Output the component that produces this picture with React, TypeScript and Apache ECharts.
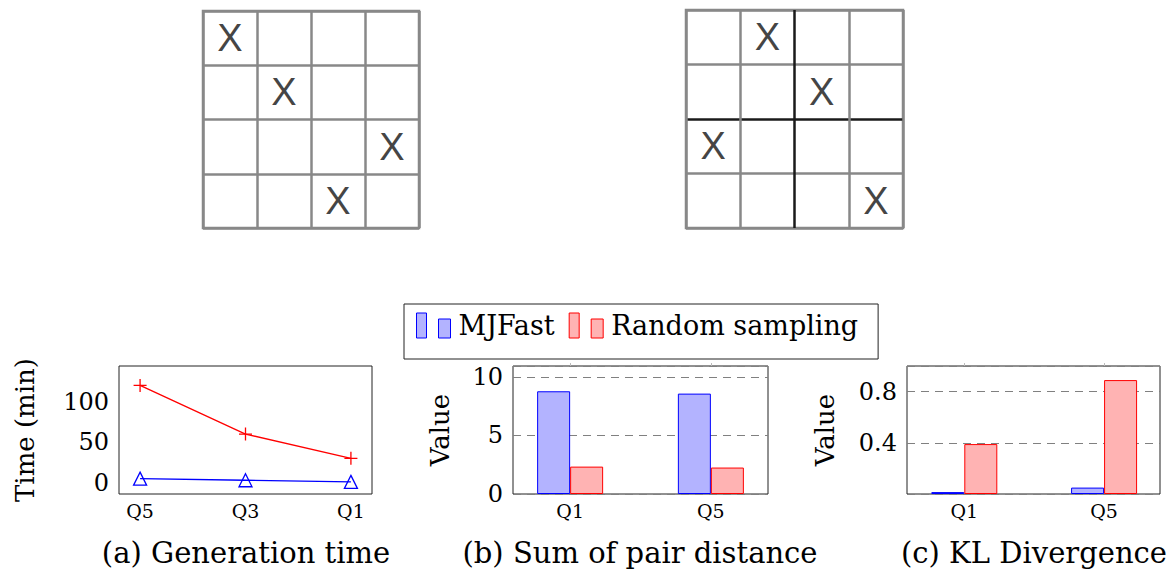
import React, { useEffect, useRef } from "react";
import * as echarts from "echarts";

// ---- data ----
const timeCats = ["Q5", "Q3", "Q1"];
const timeMJFast = [5, 3, 1];
const timeRandom = [120, 60, 30];
const timeTicks = [0, 50, 100];

const barCats = ["Q1", "Q5"];
const pairMJFast = [8.78, 8.58];
const pairRandom = [2.34, 2.26];
const pairTicks = [0, 5, 10];
const klMJFast = [0.015, 0.05];
const klRandom = [0.39, 0.89];
const klTicks = [0.4, 0.8];

const boardCats = ["1", "2", "3", "4"];
// [column, row]
const leftMarks = [[0, 0], [1, 1], [3, 2], [2, 3]];
const rightMarks = [[1, 0], [2, 1], [0, 2], [3, 3]];

const legendNames = ["MJFast", "Random sampling"];
const titles = ["(a) Generation time", "(b) Sum of pair distance", "(c) KL Divergence"];

const SERIF = "'DejaVu Serif', 'Liberation Serif', serif";
const SANS = "'Liberation Sans Narrow', 'Liberation Sans', sans-serif";
const BLUE = "#0000ff";
const RED = "#ff0000";
const BLUE_FILL = "#b3b3ff";
const RED_FILL = "#ffb3b3";

export default function App() {
  const ref = useRef<HTMLDivElement>(null);
  useEffect(() => {
    if (!ref.current) return;
    const chart = echarts.init(ref.current, undefined, { renderer: "svg" });

    const plotGrid = (left: number, width: number) => ({
      left, top: 366, width, height: 128, show: true,
      borderColor: "#222", borderWidth: 1, backgroundColor: "transparent",
    });
    const xVal = (gi: number, min: number, max: number, cats: string[]) => ({
      type: "value", gridIndex: gi, min, max,
      axisLine: { show: false }, axisTick: { show: false }, splitLine: { show: false },
      axisLabel: {
        customValues: cats.map((_, i) => i),
        formatter: (v: number) => cats[Math.round(v)],
        fontFamily: SERIF, fontSize: 19, color: "#000", margin: 7,
      },
    });
    const xTop = (gi: number, min: number, max: number, cats: string[]) => ({
      type: "value", gridIndex: gi, min, max, position: "top",
      axisLine: { show: false }, splitLine: { show: false }, axisLabel: { show: false },
      axisTick: {
        show: true, customValues: cats.map((_, i) => i), length: 3, inside: false,
        lineStyle: { color: "#bbb", width: 1 },
      },
    });
    const yName = { fontFamily: SERIF, fontSize: 26, color: "#000" };
    const yLabel = (vals: number[], fmt: (v: number) => string) => ({
      customValues: vals, formatter: fmt, fontFamily: SERIF, fontSize: 24, color: "#000", margin: 10,
    });
    const dashed = { show: true, lineStyle: { color: "#808080", width: 1, type: [8, 6] } };
    const boardX = (gi: number, colors: string[]) => ({
      type: "category", gridIndex: gi, data: boardCats, boundaryGap: true,
      axisLabel: { show: false }, axisTick: { show: false }, axisLine: { show: false },
      splitLine: { show: true, interval: 0, lineStyle: { color: colors, width: 2.5 } },
    });
    const boardY = (gi: number, colors: string[]) => ({
      ...boardX(gi, colors), inverse: true,
    });
    const thin = ["#888", "#888", "#888", "#888", "#888"];
    const thick = ["#888", "#888", "#1a1a1a", "#888", "#888"];
    const pts = (arr: number[]) => arr.map((v, i) => [i, v]);
    const bar = (name: string, gi: number, data: number[], fill: string, stroke: string) => ({
      type: "bar", name, xAxisIndex: gi, yAxisIndex: gi, data: pts(data),
      barWidth: 33, barGap: "0%",
      itemStyle: { color: fill, borderColor: stroke, borderWidth: 1 },
    });
    const board = (gi: number, marks: number[][]) => ({
      type: "scatter", name: "board" + gi, xAxisIndex: gi, yAxisIndex: gi,
      data: marks.map(([c, r]) => [boardCats[c], boardCats[r]]),
      symbolSize: 1, itemStyle: { color: "rgba(0,0,0,0)" },
      label: {
        show: true, position: "inside", formatter: "X",
        fontFamily: SANS, fontSize: 38, color: "#111",
      },
    });

    const option: any = {
      animation: false,
      backgroundColor: "#fff",
      title: titles.map((t, i) => ({
        text: t, left: [246, 640, 1034][i], top: 537, textAlign: "center", padding: 0,
        textStyle: { fontFamily: SERIF, fontSize: 29, fontWeight: "normal", color: "#000", lineHeight: 32 },
      })),
      legend: {
        left: 404, top: 304, orient: "horizontal", selectedMode: false,
        data: legendNames.map((n, i) => ({
          name: n,
          icon: "path://M0,0H10V25H0Z M22,6H34V25H22Z",
          itemStyle: {
            color: i === 0 ? BLUE_FILL : RED_FILL,
            borderColor: i === 0 ? BLUE : RED, borderWidth: 1,
          },
        })),
        itemWidth: 34, itemHeight: 25, itemGap: 14,
        padding: [8, 20, 20, 12],
        borderColor: "#222", borderWidth: 1,
        textStyle: { fontFamily: SERIF, fontSize: 27, color: "#000", lineHeight: 25, padding: [0, 0, 0, 3] },
      },
      grid: [
        plotGrid(119, 253),
        plotGrid(513, 255),
        plotGrid(907, 253),
        { left: 203, top: 11, width: 216, height: 217, show: true, borderColor: "#888", borderWidth: 2.5 },
        { left: 686, top: 10, width: 217, height: 218, show: true, borderColor: "#888", borderWidth: 2.5 },
      ],
      xAxis: [
        xVal(0, -0.2, 2.2, timeCats),
        xVal(1, -0.406, 1.406, barCats),
        xVal(2, -0.41, 1.4, barCats),
        boardX(3, thin),
        boardX(4, thick),
        xTop(1, -0.406, 1.406, barCats),
        xTop(2, -0.41, 1.4, barCats),
      ],
      yAxis: [
        {
          type: "value", gridIndex: 0, min: -14, max: 144,
          axisLine: { show: false }, axisTick: { show: false }, splitLine: { show: false },
          axisLabel: yLabel(timeTicks, (v) => String(v)),
          name: "Time (min)", nameLocation: "middle", nameGap: 81, nameTextStyle: yName,
        },
        {
          type: "value", gridIndex: 1, min: 0, max: 10.94, interval: 5,
          axisLine: { show: false }, axisTick: { show: false }, splitLine: dashed,
          axisLabel: yLabel(pairTicks, (v) => String(v)),
          name: "Value", nameLocation: "middle", nameGap: 60, nameTextStyle: yName,
        },
        {
          type: "value", gridIndex: 2, min: 0, max: 1.0, interval: 0.4,
          axisLine: { show: false }, axisTick: { show: false }, splitLine: dashed,
          axisLabel: yLabel(klTicks, (v) => v.toFixed(1)),
          name: "Value", nameLocation: "middle", nameGap: 69, nameTextStyle: yName,
        },
        boardY(3, thin),
        boardY(4, thick),
      ],
      series: [
        {
          type: "line", name: "MJFast time", xAxisIndex: 0, yAxisIndex: 0, data: pts(timeMJFast),
          symbol: "triangle", symbolSize: 13,
          itemStyle: { color: "rgba(255,255,255,0)", borderColor: BLUE, borderWidth: 1.3 },
          lineStyle: { color: BLUE, width: 1.3 },
        },
        {
          type: "line", name: "Random time", xAxisIndex: 0, yAxisIndex: 0, data: pts(timeRandom),
          symbol: "path://M0,6H12M6,0V12", symbolSize: 13,
          itemStyle: { color: "rgba(0,0,0,0)", borderColor: RED, borderWidth: 1.3 },
          lineStyle: { color: RED, width: 1.3 },
        },
        bar(legendNames[0], 1, pairMJFast, BLUE_FILL, BLUE),
        bar(legendNames[1], 1, pairRandom, RED_FILL, RED),
        bar(legendNames[0], 2, klMJFast, BLUE_FILL, BLUE),
        bar(legendNames[1], 2, klRandom, RED_FILL, RED),
        board(3, leftMarks),
        board(4, rightMarks),
      ],
    };
    chart.setOption(option);
    return () => chart.dispose();
  }, []);
  return (
    <div
      ref={ref}
      style={{ position: "absolute", left: 0, top: 0, width: 1173, height: 572, background: "#fff" }}
    />
  );
}
